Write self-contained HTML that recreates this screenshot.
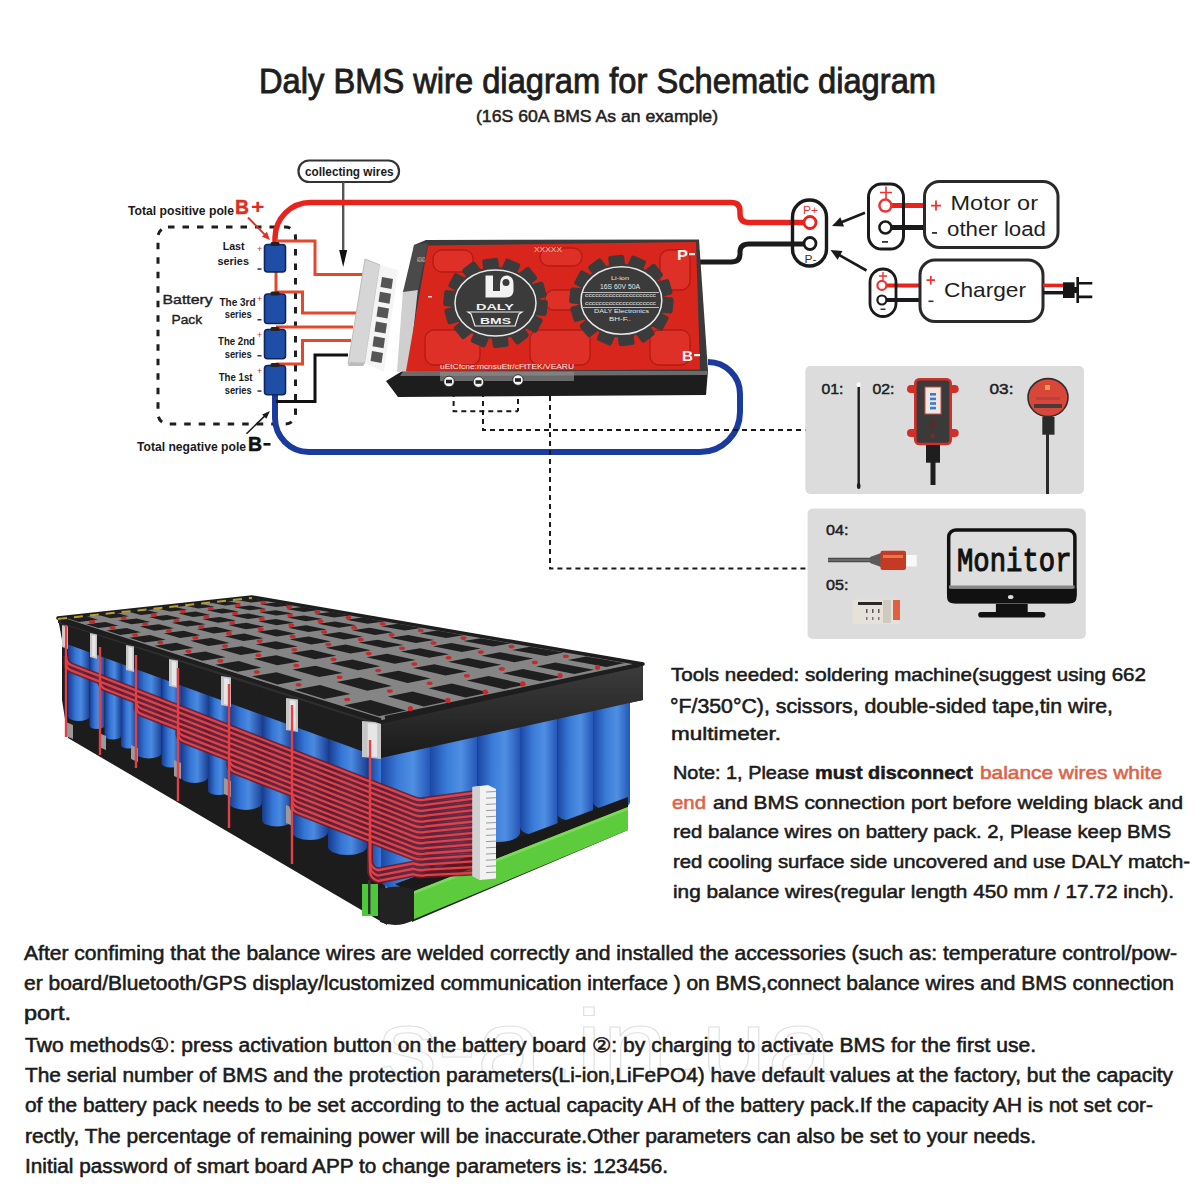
<!DOCTYPE html>
<html><head><meta charset="utf-8"><title>Daly BMS wire diagram</title>
<style>html,body{margin:0;padding:0;background:#fff;width:1200px;height:1200px;overflow:hidden}svg{display:block}</style>
</head><body>
<svg width="1200" height="1200" viewBox="0 0 1200 1200">
<rect width="1200" height="1200" fill="#fff"/>
<defs>
<linearGradient id="cellg" x1="0" x2="1" y1="0" y2="0">
<stop offset="0" stop-color="#173a8c"/><stop offset="0.35" stop-color="#3576d6"/><stop offset="0.6" stop-color="#4a8ae0"/><stop offset="1" stop-color="#1c4296"/></linearGradient>
<linearGradient id="cellg2" x1="0" x2="1" y1="0" y2="0">
<stop offset="0" stop-color="#1c47a4"/><stop offset="0.35" stop-color="#3a7bd8"/><stop offset="0.65" stop-color="#4f8fe2"/><stop offset="1" stop-color="#2456b8"/></linearGradient>
<linearGradient id="bandg" x1="0" x2="0" y1="0" y2="1">
<stop offset="0" stop-color="#3c3c3c"/><stop offset="0.5" stop-color="#2c2c2c"/><stop offset="1" stop-color="#1a1a1a"/></linearGradient>
</defs>
<polygon points="58.0,618.0 381.0,722.0 381.0,758.0 387.0,925.0 68.0,738.0 62.0,700.0 62.0,640.0" fill="#1c1c1c" />
<polygon points="381.0,722.0 643.0,664.0 643.0,700.0 628.0,703.0 628.0,830.0 412.0,922.0 381.0,758.0" fill="#1f1f1f" />
<path d="M68,644.0 L89.5,651.3 L89.5,716.8 A10.8,4.7 0 0 1 68,716.8 Z" fill="url(#cellg)"/>
<path d="M89.5,651.3 L104.5,656.4 L104.5,725.7 A7.5,3.3 0 0 1 89.5,725.7 Z" fill="url(#cellg)"/>
<path d="M104.5,656.4 L121,662.0 L121,735.9 A8.2,3.6 0 0 1 104.5,735.9 Z" fill="url(#cellg)"/>
<path d="M121,662.0 L136,667.1 L136,745.2 A7.5,3.3 0 0 1 121,745.2 Z" fill="url(#cellg)"/>
<path d="M136,667.1 L161.5,675.8 L161.5,753.4 A12.8,5.6 0 0 1 136,753.4 Z" fill="url(#cellg)"/>
<path d="M161.5,675.8 L181,682.4 L181,763.7 A9.8,4.3 0 0 1 161.5,763.7 Z" fill="url(#cellg)"/>
<path d="M181,682.4 L208,691.6 L208,777.1 A13.5,5.9 0 0 1 181,777.1 Z" fill="url(#cellg)"/>
<path d="M208,691.6 L229,698.7 L229,790.4 A10.5,4.6 0 0 1 208,790.4 Z" fill="url(#cellg)"/>
<path d="M229,698.7 L262,710.0 L262,802.7 A16.5,7.3 0 0 1 229,802.7 Z" fill="url(#cellg)"/>
<path d="M262,710.0 L292,720.2 L292,819.9 A15.0,6.6 0 0 1 262,819.9 Z" fill="url(#cellg)"/>
<path d="M292,720.2 L328,732.4 L328,832.1 A18.0,7.9 0 0 1 292,832.1 Z" fill="url(#cellg)"/>
<path d="M328,732.4 L367,745.7 L367,846.4 A19.5,8.6 0 0 1 328,846.4 Z" fill="url(#cellg)"/>
<path d="M367,745.7 L405,758.6 L405,871.6 A19.0,8.4 0 0 1 367,871.6 Z" fill="url(#cellg)"/>
<path d="M381,755.0 L430,744.3 L430,880.2 A24.5,10.8 0 0 1 381,880.2 Z" fill="url(#cellg2)"/>
<path d="M430,744.3 L477.5,733.9 L477.5,861.5 A23.8,10.4 0 0 1 430,861.5 Z" fill="url(#cellg2)"/>
<path d="M477.5,733.9 L520,724.6 L520,832.6 A21.2,9.3 0 0 1 477.5,832.6 Z" fill="url(#cellg2)"/>
<path d="M520,724.6 L557.5,716.4 L557.5,827.8 A18.8,8.2 0 0 1 520,827.8 Z" fill="url(#cellg2)"/>
<path d="M557.5,716.4 L593,708.7 L593,814.2 A17.8,7.8 0 0 1 557.5,814.2 Z" fill="url(#cellg2)"/>
<path d="M593,708.7 L630,700.6 L630,801.9 A18.5,8.1 0 0 1 593,801.9 Z" fill="url(#cellg2)"/>
<polygon points="395.0,884.0 628.0,797.0 628.0,809.0 412.0,894.0" fill="#1a1a1a" />
<polygon points="412.0,892.0 628.0,807.0 628.0,830.0 412.0,920.0" fill="#5ccb3c" />
<polygon points="412.0,892.0 628.0,807.0 628.0,810.0 412.0,895.0" fill="#7ad85a" />
<path d="M379,889 Q396,884 414,889 L414,920 Q397,929 380,922 Z" fill="#222"/>
<rect x="362" y="884" width="16" height="32" fill="#4cc83a"/>
<rect x="368" y="880" width="2.5" height="34" fill="#333"/>
<polygon points="58.0,618.0 381.0,722.0 381.0,758.0 64.0,643.0" fill="#1e1e1e" />
<polygon points="58.0,618.0 381.0,722.0 381.0,726.0 58.0,623.0" fill="#2e2e2e" />
<polygon points="62.0,625.0 68.0,626.5 68.0,649.0 62.0,647.0" fill="#c6c6c6" />
<polygon points="63.8,627.0 66.8,628.0 66.8,647.0 63.8,646.0" fill="#e6e6e6" />
<polygon points="90.0,633.0 97.0,634.5 97.0,659.0 90.0,657.0" fill="#c6c6c6" />
<polygon points="92.1,635.0 95.6,636.0 95.6,657.0 92.1,656.0" fill="#e6e6e6" />
<polygon points="126.0,645.0 134.0,646.5 134.0,672.0 126.0,670.0" fill="#c6c6c6" />
<polygon points="128.4,647.0 132.4,648.0 132.4,670.0 128.4,669.0" fill="#e6e6e6" />
<polygon points="169.0,659.0 178.0,660.5 178.0,688.0 169.0,686.0" fill="#c6c6c6" />
<polygon points="171.7,661.0 176.2,662.0 176.2,686.0 171.7,685.0" fill="#e6e6e6" />
<polygon points="221.0,676.0 231.0,677.5 231.0,707.0 221.0,705.0" fill="#c6c6c6" />
<polygon points="224.0,678.0 229.0,679.0 229.0,705.0 224.0,704.0" fill="#e6e6e6" />
<polygon points="286.0,698.0 298.0,699.5 298.0,732.0 286.0,730.0" fill="#c6c6c6" />
<polygon points="289.6,700.0 295.6,701.0 295.6,730.0 289.6,729.0" fill="#e6e6e6" />
<polygon points="362.0,721.0 381.0,722.5 381.0,759.0 362.0,757.0" fill="#c6c6c6" />
<polygon points="367.7,723.0 377.2,724.0 377.2,757.0 367.7,756.0" fill="#e6e6e6" />
<polygon points="66.0,722.0 73.0,725.0 73.0,739.0 66.0,736.0" fill="#9a9a9a" />
<polygon points="99.0,733.0 106.0,736.0 106.0,750.0 99.0,747.0" fill="#9a9a9a" />
<polygon points="131.0,745.0 138.0,748.0 138.0,762.0 131.0,759.0" fill="#9a9a9a" />
<polygon points="174.0,760.0 181.0,763.0 181.0,779.0 174.0,776.0" fill="#9a9a9a" />
<polygon points="224.0,778.0 231.0,781.0 231.0,797.0 224.0,794.0" fill="#9a9a9a" />
<polygon points="286.0,805.0 293.0,808.0 293.0,826.0 286.0,823.0" fill="#9a9a9a" />
<polygon points="381.0,722.0 643.0,664.0 643.0,700.0 381.0,758.0" fill="url(#bandg)" />
<polygon points="58.0,618.0 252.0,597.0 643.0,664.0 381.0,722.0" fill="#858585" />
<polygon points="67.6,618.4 78.8,621.9 98.0,619.7 86.4,616.3" fill="#1f1f1f" />
<polygon points="98.6,615.0 110.5,618.3 128.9,616.3 116.6,613.0" fill="#1f1f1f" />
<polygon points="128.4,611.7 140.9,614.9 158.6,612.9 145.7,609.8" fill="#1f1f1f" />
<polygon points="157.0,608.6 170.1,611.6 187.1,609.7 173.7,606.8" fill="#1f1f1f" />
<polygon points="184.6,605.6 198.2,608.5 214.5,606.7 200.6,603.8" fill="#1f1f1f" />
<polygon points="211.1,602.7 225.2,605.5 240.9,603.7 226.5,601.0" fill="#1f1f1f" />
<polygon points="236.6,599.9 251.1,602.5 266.2,600.8 251.5,598.3" fill="#1f1f1f" />
<polygon points="86.1,624.2 98.5,628.1 118.3,625.7 105.5,621.9" fill="#1f1f1f" />
<ellipse cx="92.1" cy="621.9" rx="3" ry="1.8" fill="#c82a2a"/>
<polygon points="118.2,620.5 131.3,624.2 150.3,621.9 136.8,618.4" fill="#1f1f1f" />
<ellipse cx="123.6" cy="618.3" rx="3" ry="1.8" fill="#c82a2a"/>
<polygon points="149.0,617.0 162.8,620.5 181.0,618.3 166.9,614.9" fill="#1f1f1f" />
<ellipse cx="153.9" cy="614.9" rx="3" ry="1.8" fill="#c82a2a"/>
<polygon points="178.5,613.6 192.9,616.9 210.4,614.9 195.7,611.6" fill="#1f1f1f" />
<ellipse cx="182.9" cy="611.6" rx="3" ry="1.8" fill="#c82a2a"/>
<polygon points="206.9,610.3 221.8,613.5 238.6,611.5 223.4,608.5" fill="#1f1f1f" />
<ellipse cx="210.8" cy="608.5" rx="3" ry="1.8" fill="#c82a2a"/>
<polygon points="234.2,607.2 249.6,610.3 265.7,608.4 250.0,605.4" fill="#1f1f1f" />
<ellipse cx="237.6" cy="605.4" rx="3" ry="1.8" fill="#c82a2a"/>
<polygon points="260.4,604.2 276.3,607.1 291.8,605.3 275.7,602.5" fill="#1f1f1f" />
<ellipse cx="263.4" cy="602.5" rx="3" ry="1.8" fill="#c82a2a"/>
<polygon points="106.4,630.6 120.2,634.9 140.8,632.3 126.6,628.1" fill="#1f1f1f" />
<ellipse cx="112.5" cy="628.1" rx="3" ry="1.8" fill="#c82a2a"/>
<polygon points="139.8,626.6 154.3,630.7 174.0,628.2 159.1,624.3" fill="#1f1f1f" />
<ellipse cx="145.1" cy="624.2" rx="3" ry="1.8" fill="#c82a2a"/>
<polygon points="171.6,622.7 186.9,626.6 205.7,624.3 190.1,620.5" fill="#1f1f1f" />
<ellipse cx="176.4" cy="620.5" rx="3" ry="1.8" fill="#c82a2a"/>
<polygon points="202.2,619.1 218.0,622.8 236.1,620.5 219.9,617.0" fill="#1f1f1f" />
<ellipse cx="206.3" cy="616.9" rx="3" ry="1.8" fill="#c82a2a"/>
<polygon points="231.4,615.6 247.8,619.1 265.1,616.9 248.4,613.5" fill="#1f1f1f" />
<ellipse cx="235.1" cy="613.5" rx="3" ry="1.8" fill="#c82a2a"/>
<polygon points="259.5,612.2 276.4,615.5 293.0,613.5 275.8,610.2" fill="#1f1f1f" />
<ellipse cx="262.6" cy="610.2" rx="3" ry="1.8" fill="#c82a2a"/>
<polygon points="286.4,609.0 303.8,612.1 319.7,610.1 302.1,607.1" fill="#1f1f1f" />
<ellipse cx="289.1" cy="607.1" rx="3" ry="1.8" fill="#c82a2a"/>
<polygon points="129.1,637.7 144.4,642.5 165.9,639.7 150.0,635.0" fill="#1f1f1f" />
<ellipse cx="135.1" cy="635.0" rx="3" ry="1.8" fill="#c82a2a"/>
<polygon points="163.7,633.3 179.9,637.9 200.3,635.2 183.7,630.8" fill="#1f1f1f" />
<ellipse cx="168.9" cy="630.7" rx="3" ry="1.8" fill="#c82a2a"/>
<polygon points="196.7,629.1 213.6,633.4 233.1,630.9 215.8,626.7" fill="#1f1f1f" />
<ellipse cx="201.3" cy="626.7" rx="3" ry="1.8" fill="#c82a2a"/>
<polygon points="228.2,625.1 245.8,629.2 264.4,626.8 246.5,622.8" fill="#1f1f1f" />
<ellipse cx="232.2" cy="622.8" rx="3" ry="1.8" fill="#c82a2a"/>
<polygon points="258.4,621.3 276.5,625.2 294.3,622.8 275.9,619.1" fill="#1f1f1f" />
<ellipse cx="261.8" cy="619.1" rx="3" ry="1.8" fill="#c82a2a"/>
<polygon points="287.3,617.6 305.9,621.3 322.9,619.1 304.0,615.5" fill="#1f1f1f" />
<ellipse cx="290.2" cy="615.5" rx="3" ry="1.8" fill="#c82a2a"/>
<polygon points="314.9,614.1 334.0,617.6 350.3,615.5 331.0,612.1" fill="#1f1f1f" />
<ellipse cx="317.3" cy="612.1" rx="3" ry="1.8" fill="#c82a2a"/>
<polygon points="154.4,645.7 171.6,651.1 193.9,648.0 176.2,642.7" fill="#1f1f1f" />
<ellipse cx="160.2" cy="642.6" rx="3" ry="1.8" fill="#c82a2a"/>
<polygon points="190.3,640.8 208.4,645.9 229.6,643.0 211.1,638.0" fill="#1f1f1f" />
<ellipse cx="195.4" cy="637.9" rx="3" ry="1.8" fill="#c82a2a"/>
<polygon points="224.5,636.2 243.4,641.0 263.6,638.2 244.3,633.6" fill="#1f1f1f" />
<ellipse cx="228.9" cy="633.5" rx="3" ry="1.8" fill="#c82a2a"/>
<polygon points="257.1,631.8 276.7,636.4 295.9,633.7 276.0,629.3" fill="#1f1f1f" />
<ellipse cx="260.8" cy="629.3" rx="3" ry="1.8" fill="#c82a2a"/>
<polygon points="288.3,627.7 308.4,631.9 326.7,629.4 306.2,625.2" fill="#1f1f1f" />
<ellipse cx="291.3" cy="625.2" rx="3" ry="1.8" fill="#c82a2a"/>
<polygon points="318.0,623.7 338.6,627.7 356.1,625.3 335.1,621.4" fill="#1f1f1f" />
<ellipse cx="320.5" cy="621.3" rx="3" ry="1.8" fill="#c82a2a"/>
<polygon points="346.4,619.8 367.5,623.7 384.2,621.4 362.8,617.6" fill="#1f1f1f" />
<ellipse cx="348.4" cy="617.6" rx="3" ry="1.8" fill="#c82a2a"/>
<polygon points="182.8,654.6 202.3,660.7 225.6,657.3 205.5,651.4" fill="#1f1f1f" />
<ellipse cx="188.5" cy="651.2" rx="3" ry="1.8" fill="#c82a2a"/>
<polygon points="220.2,649.2 240.6,655.0 262.6,651.7 241.7,646.2" fill="#1f1f1f" />
<ellipse cx="225.0" cy="646.0" rx="3" ry="1.8" fill="#c82a2a"/>
<polygon points="255.7,644.2 276.9,649.6 297.8,646.4 276.1,641.2" fill="#1f1f1f" />
<ellipse cx="259.7" cy="641.1" rx="3" ry="1.8" fill="#c82a2a"/>
<polygon points="289.4,639.3 311.3,644.4 331.1,641.4 308.8,636.5" fill="#1f1f1f" />
<ellipse cx="292.7" cy="636.5" rx="3" ry="1.8" fill="#c82a2a"/>
<polygon points="321.5,634.7 344.0,639.5 362.8,636.7 340.0,632.1" fill="#1f1f1f" />
<ellipse cx="324.1" cy="632.0" rx="3" ry="1.8" fill="#c82a2a"/>
<polygon points="352.0,630.3 375.1,634.9 393.0,632.2 369.7,627.8" fill="#1f1f1f" />
<ellipse cx="354.1" cy="627.8" rx="3" ry="1.8" fill="#c82a2a"/>
<polygon points="381.2,626.2 404.7,630.4 421.7,627.9 398.0,623.8" fill="#1f1f1f" />
<ellipse cx="382.7" cy="623.7" rx="3" ry="1.8" fill="#c82a2a"/>
<polygon points="215.1,664.7 237.3,671.7 261.5,667.8 238.7,661.1" fill="#1f1f1f" />
<ellipse cx="220.4" cy="660.9" rx="3" ry="1.8" fill="#c82a2a"/>
<polygon points="254.0,658.8 277.2,665.3 300.0,661.6 276.3,655.3" fill="#1f1f1f" />
<ellipse cx="258.4" cy="655.2" rx="3" ry="1.8" fill="#c82a2a"/>
<polygon points="290.8,653.1 314.8,659.2 336.4,655.7 311.9,649.8" fill="#1f1f1f" />
<ellipse cx="294.3" cy="649.7" rx="3" ry="1.8" fill="#c82a2a"/>
<polygon points="325.6,647.7 350.4,653.5 370.8,650.2 345.6,644.6" fill="#1f1f1f" />
<ellipse cx="328.4" cy="644.5" rx="3" ry="1.8" fill="#c82a2a"/>
<polygon points="358.7,642.6 384.0,648.0 403.4,644.9 377.7,639.7" fill="#1f1f1f" />
<ellipse cx="360.8" cy="639.6" rx="3" ry="1.8" fill="#c82a2a"/>
<polygon points="390.0,637.8 415.9,642.9 434.3,639.9 408.1,635.0" fill="#1f1f1f" />
<ellipse cx="391.6" cy="634.9" rx="3" ry="1.8" fill="#c82a2a"/>
<polygon points="419.9,633.2 446.2,638.0 463.6,635.2 437.1,630.6" fill="#1f1f1f" />
<ellipse cx="420.8" cy="630.5" rx="3" ry="1.8" fill="#c82a2a"/>
<polygon points="251.9,676.3 277.5,684.4 302.7,679.9 276.5,672.2" fill="#1f1f1f" />
<ellipse cx="256.8" cy="672.0" rx="3" ry="1.8" fill="#c82a2a"/>
<polygon points="292.4,669.6 319.0,677.1 342.7,672.9 315.5,665.7" fill="#1f1f1f" />
<ellipse cx="296.3" cy="665.5" rx="3" ry="1.8" fill="#c82a2a"/>
<polygon points="330.5,663.2 358.0,670.2 380.3,666.3 352.4,659.6" fill="#1f1f1f" />
<ellipse cx="333.5" cy="659.4" rx="3" ry="1.8" fill="#c82a2a"/>
<polygon points="366.5,657.2 394.7,663.8 415.7,660.1 387.2,653.8" fill="#1f1f1f" />
<ellipse cx="368.7" cy="653.6" rx="3" ry="1.8" fill="#c82a2a"/>
<polygon points="400.5,651.5 429.3,657.7 449.1,654.2 420.1,648.3" fill="#1f1f1f" />
<ellipse cx="402.0" cy="648.2" rx="3" ry="1.8" fill="#c82a2a"/>
<polygon points="432.8,646.2 462.0,651.9 480.8,648.6 451.3,643.1" fill="#1f1f1f" />
<ellipse cx="433.5" cy="643.0" rx="3" ry="1.8" fill="#c82a2a"/>
<polygon points="463.3,641.1 492.9,646.5 510.7,643.3 480.9,638.2" fill="#1f1f1f" />
<ellipse cx="463.5" cy="638.1" rx="3" ry="1.8" fill="#c82a2a"/>
<polygon points="294.4,689.7 324.1,699.0 350.4,694.0 320.0,685.0" fill="#1f1f1f" />
<ellipse cx="298.6" cy="684.7" rx="3" ry="1.8" fill="#c82a2a"/>
<polygon points="336.5,682.0 367.3,690.7 391.8,685.9 360.5,677.6" fill="#1f1f1f" />
<ellipse cx="339.6" cy="677.3" rx="3" ry="1.8" fill="#c82a2a"/>
<polygon points="376.0,674.8 407.6,682.9 430.6,678.4 398.6,670.7" fill="#1f1f1f" />
<ellipse cx="378.2" cy="670.5" rx="3" ry="1.8" fill="#c82a2a"/>
<polygon points="413.1,668.0 445.5,675.5 467.0,671.4 434.4,664.2" fill="#1f1f1f" />
<ellipse cx="414.4" cy="664.0" rx="3" ry="1.8" fill="#c82a2a"/>
<polygon points="448.1,661.7 481.0,668.7 501.3,664.7 468.1,658.0" fill="#1f1f1f" />
<ellipse cx="448.6" cy="657.8" rx="3" ry="1.8" fill="#c82a2a"/>
<polygon points="481.1,655.7 514.4,662.2 533.5,658.5 500.0,652.2" fill="#1f1f1f" />
<ellipse cx="480.9" cy="652.1" rx="3" ry="1.8" fill="#c82a2a"/>
<polygon points="512.2,650.0 545.9,656.1 563.9,652.6 530.1,646.7" fill="#1f1f1f" />
<ellipse cx="511.5" cy="646.6" rx="3" ry="1.8" fill="#c82a2a"/>
<polygon points="343.9,705.3 378.9,716.3 406.2,710.4 370.5,699.9" fill="#1f1f1f" />
<ellipse cx="347.2" cy="699.5" rx="3" ry="1.8" fill="#c82a2a"/>
<polygon points="387.7,696.4 423.7,706.6 449.1,701.1 412.5,691.4" fill="#1f1f1f" />
<ellipse cx="389.8" cy="691.0" rx="3" ry="1.8" fill="#c82a2a"/>
<polygon points="428.5,688.2 465.4,697.6 489.0,692.5 451.8,683.5" fill="#1f1f1f" />
<ellipse cx="429.6" cy="683.2" rx="3" ry="1.8" fill="#c82a2a"/>
<polygon points="466.8,680.5 504.2,689.2 526.3,684.4 488.5,676.1" fill="#1f1f1f" />
<ellipse cx="466.9" cy="675.8" rx="3" ry="1.8" fill="#c82a2a"/>
<polygon points="502.6,673.3 540.5,681.3 561.2,676.9 523.0,669.1" fill="#1f1f1f" />
<ellipse cx="501.9" cy="668.9" rx="3" ry="1.8" fill="#c82a2a"/>
<polygon points="536.2,666.5 574.5,674.0 593.9,669.8 555.4,662.6" fill="#1f1f1f" />
<ellipse cx="534.8" cy="662.4" rx="3" ry="1.8" fill="#c82a2a"/>
<polygon points="567.9,660.1 606.4,667.1 624.6,663.1 586.0,656.4" fill="#1f1f1f" />
<ellipse cx="565.9" cy="656.3" rx="3" ry="1.8" fill="#c82a2a"/>
<polygon points="58,618 252,597 643,664 381,722" fill="none" stroke="#1e1e1e" stroke-width="3.5" stroke-linejoin="round"/>
<line x1="58" y1="619" x2="252" y2="598" stroke="#b8a030" stroke-width="2" stroke-dasharray="9 7"/>
<line x1="385" y1="718" x2="639" y2="665" stroke="#1e1e1e" stroke-width="4"/>
<line x1="61" y1="621" x2="381" y2="720" stroke="#1e1e1e" stroke-width="3.5"/>
<circle cx="410.4" cy="708.7" r="2.6" fill="#c82a2a"/>
<circle cx="447.9" cy="700.4" r="2.6" fill="#c82a2a"/>
<circle cx="485.3" cy="692.1" r="2.6" fill="#c82a2a"/>
<circle cx="522.7" cy="683.9" r="2.6" fill="#c82a2a"/>
<circle cx="560.1" cy="675.6" r="2.6" fill="#c82a2a"/>
<circle cx="597.6" cy="667.3" r="2.6" fill="#c82a2a"/>
<path d="M66,656.0 Q66,663.0 71,665.0 L413.5,798.6 Q419.5,800.9 425.5,799.5 L473.5,793.0" fill="none" stroke="#6a1a26" stroke-width="5.6" opacity="0.85"/>
<path d="M66,661.4 Q66,668.4 71,670.4 L413.5,804.0 Q419.5,806.3 425.5,804.9 L473.5,798.7" fill="none" stroke="#6a1a26" stroke-width="5.6" opacity="0.85"/>
<path d="M100,680.1 Q100,687.1 105,689.0 L413.5,809.4 Q419.5,811.7 425.5,810.3 L473.5,804.4" fill="none" stroke="#6a1a26" stroke-width="5.6" opacity="0.85"/>
<path d="M136,699.5 Q136,706.5 141,708.5 L413.5,814.8 Q419.5,817.1 425.5,815.7 L473.5,810.1" fill="none" stroke="#6a1a26" stroke-width="5.6" opacity="0.85"/>
<path d="M136,704.9 Q136,711.9 141,713.9 L413.5,820.2 Q419.5,822.5 425.5,821.1 L473.5,815.8" fill="none" stroke="#6a1a26" stroke-width="5.6" opacity="0.85"/>
<path d="M178,726.7 Q178,733.7 183,735.6 L413.5,825.6 Q419.5,827.9 425.5,826.5 L473.5,821.5" fill="none" stroke="#6a1a26" stroke-width="5.6" opacity="0.85"/>
<path d="M178,732.1 Q178,739.1 183,741.0 L413.5,831.0 Q419.5,833.3 425.5,831.9 L473.5,827.2" fill="none" stroke="#6a1a26" stroke-width="5.6" opacity="0.85"/>
<path d="M229,757.4 Q229,764.4 234,766.3 L413.5,836.4 Q419.5,838.7 425.5,837.3 L473.5,832.9" fill="none" stroke="#6a1a26" stroke-width="5.6" opacity="0.85"/>
<path d="M229,762.8 Q229,769.8 234,771.7 L413.5,841.8 Q419.5,844.1 425.5,842.7 L473.5,838.6" fill="none" stroke="#6a1a26" stroke-width="5.6" opacity="0.85"/>
<path d="M292,792.7 Q292,799.7 297,801.7 L413.5,847.2 Q419.5,849.5 425.5,848.1 L473.5,844.3" fill="none" stroke="#6a1a26" stroke-width="5.6" opacity="0.85"/>
<path d="M292,798.1 Q292,805.1 297,807.1 L413.5,852.6 Q419.5,854.9 425.5,853.5 L473.5,850.0" fill="none" stroke="#6a1a26" stroke-width="5.6" opacity="0.85"/>
<path d="M292,803.5 Q292,810.5 297,812.5 L413.5,858.0 Q419.5,860.3 425.5,858.9 L473.5,855.7" fill="none" stroke="#6a1a26" stroke-width="5.6" opacity="0.85"/>
<path d="M370,832.4 L370,859.7 Q370,867.7 378,870.2 L413.5,863.4 Q419.5,865.7 425.5,864.3 L473.5,861.4" fill="none" stroke="#6a1a26" stroke-width="5.6" opacity="0.85"/>
<path d="M370,837.8 L370,865.1 Q370,873.1 378,875.6 L413.5,868.8 Q419.5,871.1 425.5,869.7 L473.5,867.1" fill="none" stroke="#6a1a26" stroke-width="5.6" opacity="0.85"/>
<path d="M370,843.2 L370,870.5 Q370,878.5 378,881.0 L413.5,874.2 Q419.5,876.5 425.5,875.1 L473.5,872.8" fill="none" stroke="#6a1a26" stroke-width="5.6" opacity="0.85"/>
<path d="M66,656.0 Q66,663.0 71,665.0 L413.5,798.6 Q419.5,800.9 425.5,799.5 L473.5,793.0" fill="none" stroke="#e04048" stroke-width="2.3"/>
<path d="M66,661.4 Q66,668.4 71,670.4 L413.5,804.0 Q419.5,806.3 425.5,804.9 L473.5,798.7" fill="none" stroke="#e04048" stroke-width="2.3"/>
<path d="M100,680.1 Q100,687.1 105,689.0 L413.5,809.4 Q419.5,811.7 425.5,810.3 L473.5,804.4" fill="none" stroke="#e04048" stroke-width="2.3"/>
<path d="M136,699.5 Q136,706.5 141,708.5 L413.5,814.8 Q419.5,817.1 425.5,815.7 L473.5,810.1" fill="none" stroke="#e04048" stroke-width="2.3"/>
<path d="M136,704.9 Q136,711.9 141,713.9 L413.5,820.2 Q419.5,822.5 425.5,821.1 L473.5,815.8" fill="none" stroke="#e04048" stroke-width="2.3"/>
<path d="M178,726.7 Q178,733.7 183,735.6 L413.5,825.6 Q419.5,827.9 425.5,826.5 L473.5,821.5" fill="none" stroke="#e04048" stroke-width="2.3"/>
<path d="M178,732.1 Q178,739.1 183,741.0 L413.5,831.0 Q419.5,833.3 425.5,831.9 L473.5,827.2" fill="none" stroke="#e04048" stroke-width="2.3"/>
<path d="M229,757.4 Q229,764.4 234,766.3 L413.5,836.4 Q419.5,838.7 425.5,837.3 L473.5,832.9" fill="none" stroke="#e04048" stroke-width="2.3"/>
<path d="M229,762.8 Q229,769.8 234,771.7 L413.5,841.8 Q419.5,844.1 425.5,842.7 L473.5,838.6" fill="none" stroke="#e04048" stroke-width="2.3"/>
<path d="M292,792.7 Q292,799.7 297,801.7 L413.5,847.2 Q419.5,849.5 425.5,848.1 L473.5,844.3" fill="none" stroke="#e04048" stroke-width="2.3"/>
<path d="M292,798.1 Q292,805.1 297,807.1 L413.5,852.6 Q419.5,854.9 425.5,853.5 L473.5,850.0" fill="none" stroke="#e04048" stroke-width="2.3"/>
<path d="M292,803.5 Q292,810.5 297,812.5 L413.5,858.0 Q419.5,860.3 425.5,858.9 L473.5,855.7" fill="none" stroke="#e04048" stroke-width="2.3"/>
<path d="M370,832.4 L370,859.7 Q370,867.7 378,870.2 L413.5,863.4 Q419.5,865.7 425.5,864.3 L473.5,861.4" fill="none" stroke="#e04048" stroke-width="2.3"/>
<path d="M370,837.8 L370,865.1 Q370,873.1 378,875.6 L413.5,868.8 Q419.5,871.1 425.5,869.7 L473.5,867.1" fill="none" stroke="#e04048" stroke-width="2.3"/>
<path d="M370,843.2 L370,870.5 Q370,878.5 378,881.0 L413.5,874.2 Q419.5,876.5 425.5,875.1 L473.5,872.8" fill="none" stroke="#e04048" stroke-width="2.3"/>
<path d="M66,625 L66,737" stroke="#e04048" stroke-width="2.4"/>
<path d="M100,647 L100,755" stroke="#e04048" stroke-width="2.4"/>
<path d="M136,655 L136,768" stroke="#e04048" stroke-width="2.4"/>
<path d="M178,668 L178,801" stroke="#e04048" stroke-width="2.4"/>
<path d="M229,684 L229,828" stroke="#e04048" stroke-width="2.4"/>
<path d="M292,705 L292,864" stroke="#e04048" stroke-width="2.4"/>
<path d="M370,740 L370,862" stroke="#e04048" stroke-width="2.4"/>
<polygon points="472.5,787.0 488.0,785.0 496.0,789.0 496.0,878.5 480.0,880.0 472.5,876.0" fill="#f2f2f2" />
<polygon points="472.5,787.0 480.0,786.0 480.0,880.0 472.5,876.0" fill="#d0d0d0" />
<line x1="486" y1="792.0" x2="496" y2="791.5" stroke="#9a9a9a" stroke-width="1"/>
<line x1="486" y1="798.2" x2="496" y2="797.7" stroke="#9a9a9a" stroke-width="1"/>
<line x1="486" y1="804.4" x2="496" y2="803.9" stroke="#9a9a9a" stroke-width="1"/>
<line x1="486" y1="810.6" x2="496" y2="810.1" stroke="#9a9a9a" stroke-width="1"/>
<line x1="486" y1="816.8" x2="496" y2="816.3" stroke="#9a9a9a" stroke-width="1"/>
<line x1="486" y1="823.0" x2="496" y2="822.5" stroke="#9a9a9a" stroke-width="1"/>
<line x1="486" y1="829.2" x2="496" y2="828.7" stroke="#9a9a9a" stroke-width="1"/>
<line x1="486" y1="835.4" x2="496" y2="834.9" stroke="#9a9a9a" stroke-width="1"/>
<line x1="486" y1="841.6" x2="496" y2="841.1" stroke="#9a9a9a" stroke-width="1"/>
<line x1="486" y1="847.8" x2="496" y2="847.3" stroke="#9a9a9a" stroke-width="1"/>
<line x1="486" y1="854.0" x2="496" y2="853.5" stroke="#9a9a9a" stroke-width="1"/>
<line x1="486" y1="860.2" x2="496" y2="859.7" stroke="#9a9a9a" stroke-width="1"/>
<line x1="486" y1="866.4" x2="496" y2="865.9" stroke="#9a9a9a" stroke-width="1"/>
<line x1="486" y1="872.6" x2="496" y2="872.1" stroke="#9a9a9a" stroke-width="1"/>
<rect x="158" y="227" width="137.5" height="197" rx="10" fill="none" stroke="#1e1e1e" stroke-width="3" stroke-dasharray="6.5 8"/>
<rect x="298.5" y="160.5" width="100.5" height="21.5" rx="10.5" fill="#fff" stroke="#333" stroke-width="2.2"/>
<text x="305" y="175.5" textLength="88.5" lengthAdjust="spacingAndGlyphs" font-size="12.5" font-weight="bold" fill="#1a1a1a" font-family='"Liberation Sans", sans-serif' >collecting wires</text>
<line x1="343.2" y1="182" x2="343.2" y2="254" stroke="#555" stroke-width="2.4"/>
<polygon points="339.2,250 347.2,250 343.2,267" fill="#111"/>
<text x="128" y="214.5" textLength="106" lengthAdjust="spacingAndGlyphs" font-size="13" font-weight="bold" fill="#1a1a1a" font-family='"Liberation Sans", sans-serif' >Total positive pole</text>
<text x="235" y="213.7" textLength="14" lengthAdjust="spacingAndGlyphs" font-size="20" font-weight="bold" fill="#e32b20" stroke="#e32b20" stroke-width="0.4" font-family='"Liberation Sans", sans-serif' >B</text>
<text x="251" y="213.7" textLength="13.5" lengthAdjust="spacingAndGlyphs" font-size="20" font-weight="bold" fill="#e32b20" font-family='"Liberation Sans", sans-serif' >+</text>
<line x1="248" y1="217.5" x2="265.5" y2="235.4" stroke="#e0302a" stroke-width="2"/><polygon points="270.0,240.0 261.9,236.7 266.9,231.8" fill="#e0302a"/>
<text x="137" y="451" textLength="109" lengthAdjust="spacingAndGlyphs" font-size="13" font-weight="bold" fill="#1a1a1a" font-family='"Liberation Sans", sans-serif' >Total negative pole</text>
<text x="248" y="451" textLength="14" lengthAdjust="spacingAndGlyphs" font-size="20" font-weight="bold" fill="#111" stroke="#111" stroke-width="0.6" font-family='"Liberation Sans", sans-serif' >B</text>
<rect x="263.5" y="443" width="7" height="2.6" fill="#111"/>
<line x1="246.5" y1="433.7" x2="265.4" y2="415.4" stroke="#1a1a1a" stroke-width="1.6"/><polygon points="270.0,411.0 266.3,418.7 262.2,414.4" fill="#1a1a1a"/>
<text x="162.5" y="304" textLength="50.2" lengthAdjust="spacingAndGlyphs" font-size="13.5" font-weight="normal" fill="#222" stroke="#222" stroke-width="0.4" font-family='"Liberation Sans", sans-serif' >Battery</text>
<text x="171.5" y="323.5" textLength="30.5" lengthAdjust="spacingAndGlyphs" font-size="13.5" font-weight="normal" fill="#222" stroke="#222" stroke-width="0.4" font-family='"Liberation Sans", sans-serif' >Pack</text>
<text x="222.7" y="249.7" textLength="21.8" lengthAdjust="spacingAndGlyphs" font-size="10.5" font-weight="bold" fill="#1a1a1a" font-family='"Liberation Sans", sans-serif' >Last</text>
<text x="217.5" y="264.7" textLength="31.5" lengthAdjust="spacingAndGlyphs" font-size="10.5" font-weight="bold" fill="#1a1a1a" font-family='"Liberation Sans", sans-serif' >series</text>
<text x="219.5" y="305.5" textLength="36" lengthAdjust="spacingAndGlyphs" font-size="10.5" font-weight="bold" fill="#1a1a1a" font-family='"Liberation Sans", sans-serif' >The 3rd</text>
<text x="224.7" y="317.5" textLength="27" lengthAdjust="spacingAndGlyphs" font-size="10.5" font-weight="bold" fill="#1a1a1a" font-family='"Liberation Sans", sans-serif' >series</text>
<text x="218" y="344.5" textLength="37" lengthAdjust="spacingAndGlyphs" font-size="10.5" font-weight="bold" fill="#1a1a1a" font-family='"Liberation Sans", sans-serif' >The 2nd</text>
<text x="224.7" y="358" textLength="27" lengthAdjust="spacingAndGlyphs" font-size="10.5" font-weight="bold" fill="#1a1a1a" font-family='"Liberation Sans", sans-serif' >series</text>
<text x="218.7" y="380.5" textLength="33.8" lengthAdjust="spacingAndGlyphs" font-size="10.5" font-weight="bold" fill="#1a1a1a" font-family='"Liberation Sans", sans-serif' >The 1st</text>
<text x="224.7" y="394" textLength="27" lengthAdjust="spacingAndGlyphs" font-size="10.5" font-weight="bold" fill="#1a1a1a" font-family='"Liberation Sans", sans-serif' >series</text>
<text x="257" y="252" font-size="9" fill="#d03030" font-family='"Liberation Sans", sans-serif'>+</text>
<text x="257" y="301.7" font-size="9" fill="#d03030" font-family='"Liberation Sans", sans-serif'>+</text>
<text x="257" y="337.7" font-size="9" fill="#d03030" font-family='"Liberation Sans", sans-serif'>+</text>
<text x="257" y="373.7" font-size="9" fill="#d03030" font-family='"Liberation Sans", sans-serif'>+</text>
<rect x="257.5" y="268.3" width="4" height="1.5" fill="#333"/>
<rect x="257.5" y="319.0" width="4" height="1.5" fill="#333"/>
<rect x="257.5" y="355.0" width="4" height="1.5" fill="#333"/>
<rect x="257.5" y="390.3" width="4" height="1.5" fill="#333"/>
<path d="M275,246 L275,238 A35.5,35.5 0 0 1 310.5,202.5 L731,202.5 Q740,202.5 740,211 L740,214 Q740,222.5 749,222.5 L806,222.5" fill="none" stroke="#e8231c" stroke-width="5.5"/>
<path d="M700,262 L731,262 Q740,262 740,254 L740,252 Q740,244 749,244 L806,244" fill="none" stroke="#1c1c1c" stroke-width="5"/>
<path d="M275,394 L275,418 A34,34 0 0 0 309,452 L700,452 A40,40 0 0 0 740,412 L740,394 A32,32 0 0 0 708,362" fill="none" stroke="#1a3a9e" stroke-width="6"/>
<path d="M276,241 L315,241 L315,274.4 L363,274.4" fill="none" stroke="#e4482c" stroke-width="3"/>
<path d="M276,270 L276,296" fill="none" stroke="#e4482c" stroke-width="3"/>
<path d="M276,292 L302.5,292 L302.5,313 L356,313" fill="none" stroke="#e4482c" stroke-width="3"/>
<path d="M276,327 L353,327" fill="none" stroke="#e4482c" stroke-width="3"/>
<path d="M276,364 L302.5,364 L302.5,340.6 L351,340.6" fill="none" stroke="#e4482c" stroke-width="3"/>
<path d="M276,401.5 L315,401.5 L315,355 L348,355" fill="none" stroke="#111" stroke-width="3"/>
<rect x="264.5" y="244.5" width="21" height="27.5" rx="3" fill="#1f4ea6" stroke="#10255e" stroke-width="1.6"/>
<rect x="270.5" y="242.0" width="9" height="4" rx="1.5" fill="#222"/>
<rect x="264.5" y="294" width="21" height="29.5" rx="3" fill="#1f4ea6" stroke="#10255e" stroke-width="1.6"/>
<rect x="270.5" y="291.5" width="9" height="4" rx="1.5" fill="#222"/>
<rect x="264.5" y="329.5" width="21" height="29.19999999999999" rx="3" fill="#1f4ea6" stroke="#10255e" stroke-width="1.6"/>
<rect x="270.5" y="327.0" width="9" height="4" rx="1.5" fill="#222"/>
<rect x="264.5" y="365.5" width="21" height="29.19999999999999" rx="3" fill="#1f4ea6" stroke="#10255e" stroke-width="1.6"/>
<rect x="270.5" y="363.0" width="9" height="4" rx="1.5" fill="#222"/>
<polygon points="365,259 380,265 365,363 348,364" fill="#d6d6d6" stroke="#bdbdbd" stroke-width="1"/>
<polygon points="380,265 398,270 384,372 365,363" fill="#f4f4f4"/>
<polygon points="350,362 365,363 363,366 348,366" fill="#bbb"/>
<polygon points="382.0,277.0 393.0,279.0 391.5,289.0 380.5,287.0" fill="#555"/>
<polygon points="380.0,291.8 391.0,293.8 389.5,303.8 378.5,301.8" fill="#555"/>
<polygon points="378.0,306.6 389.0,308.6 387.5,318.6 376.5,316.6" fill="#555"/>
<polygon points="376.0,321.4 387.0,323.4 385.5,333.4 374.5,331.4" fill="#555"/>
<polygon points="374.0,336.2 385.0,338.2 383.5,348.2 372.5,346.2" fill="#555"/>
<polygon points="372.0,351.0 383.0,353.0 381.5,363.0 370.5,361.0" fill="#555"/>
<path d="M453.6,392 L453.6,411.3 L518,411.3" stroke="#1a1a1a" stroke-width="2" stroke-dasharray="5 4" fill="none"/>
<path d="M518,390 L518,411.3" stroke="#1a1a1a" stroke-width="2" stroke-dasharray="5 4" fill="none"/>
<path d="M483,392 L483,430 L808,430" stroke="#1a1a1a" stroke-width="2" stroke-dasharray="5 4" fill="none"/>
<path d="M550,396 L550,568.6 L808,568.6" stroke="#1a1a1a" stroke-width="2" stroke-dasharray="5 4" fill="none"/>
<rect x="792.5" y="200" width="34" height="66" rx="17" fill="none" stroke="#1a1a1a" stroke-width="3.4"/>
<circle cx="810" cy="222.5" r="6" fill="#fff" stroke="#e8231c" stroke-width="2.8"/>
<circle cx="810" cy="243.5" r="6" fill="#fff" stroke="#1a1a1a" stroke-width="2.8"/>
<text x="803" y="213.5" textLength="15" lengthAdjust="spacingAndGlyphs" font-size="11" font-weight="normal" fill="#d83a2a" font-family='"Liberation Sans", sans-serif' >P+</text>
<text x="804.5" y="263" textLength="12" lengthAdjust="spacingAndGlyphs" font-size="11" font-weight="normal" fill="#333" font-family='"Liberation Sans", sans-serif' >P-</text>
<line x1="865" y1="212.75" x2="840.2" y2="222.7" stroke="#1a1a1a" stroke-width="2.6"/><polygon points="832.0,226.0 840.3,217.3 844.1,226.5" fill="#1a1a1a"/>
<line x1="866.5" y1="270.5" x2="838.1" y2="254.4" stroke="#1a1a1a" stroke-width="2.6"/><polygon points="830.5,250.0 842.5,251.1 837.6,259.8" fill="#1a1a1a"/>
<path d="M891,205.6 L925,205.6" stroke="#e8231c" stroke-width="5"/>
<path d="M891,227.5 L925,227.5" stroke="#1a1a1a" stroke-width="5"/>
<rect x="868.5" y="184" width="35" height="65" rx="13" fill="none" stroke="#1a1a1a" stroke-width="3"/>
<circle cx="885.4" cy="205.6" r="6" fill="#fff" stroke="#e33" stroke-width="2.5"/>
<circle cx="885.4" cy="227.5" r="6" fill="#fff" stroke="#1a1a1a" stroke-width="2.5"/>
<path d="M880,192.5 L892,192.5 M886,186.5 L886,199.5" stroke="#e33" stroke-width="1.6"/>
<rect x="882" y="241" width="6" height="1.8" fill="#333"/>
<rect x="924.5" y="181.5" width="133.5" height="66" rx="15" fill="none" stroke="#2a2a2a" stroke-width="3"/>
<path d="M931,205.6 L941,205.6 M936,200.6 L936,210.6" stroke="#e33" stroke-width="1.8"/>
<text x="950.5" y="210" textLength="87.5" lengthAdjust="spacingAndGlyphs" font-size="20" font-weight="normal" fill="#1e1e1e" font-family='"Liberation Sans", sans-serif' >Motor or</text>
<rect x="932" y="232" width="5" height="1.8" fill="#333"/>
<text x="947" y="236.3" textLength="99" lengthAdjust="spacingAndGlyphs" font-size="20" font-weight="normal" fill="#1e1e1e" font-family='"Liberation Sans", sans-serif' >other load</text>
<path d="M886,285.4 L921,285.4" stroke="#e8231c" stroke-width="4"/>
<path d="M886,300 L921,300" stroke="#1a1a1a" stroke-width="4"/>
<rect x="870" y="269" width="26" height="47.5" rx="13" fill="none" stroke="#1a1a1a" stroke-width="2.8"/>
<circle cx="881.9" cy="285.4" r="4.5" fill="#fff" stroke="#e33" stroke-width="2.2"/>
<circle cx="881.9" cy="300" r="4.5" fill="#fff" stroke="#1a1a1a" stroke-width="2.2"/>
<path d="M879,276 L887,276 M883,272 L883,280" stroke="#e33" stroke-width="1.4"/>
<rect x="880.5" y="308.5" width="5" height="1.5" fill="#333"/>
<rect x="920" y="260" width="123" height="61.5" rx="15" fill="none" stroke="#2a2a2a" stroke-width="3"/>
<path d="M926.5,280.2 L935,280.2 M930.8,276 L930.8,284.4" stroke="#e33" stroke-width="1.8"/>
<rect x="928.5" y="300.5" width="5" height="1.6" fill="#333"/>
<text x="944" y="296.9" textLength="82" lengthAdjust="spacingAndGlyphs" font-size="21" font-weight="normal" fill="#1e1e1e" font-family='"Liberation Sans", sans-serif' >Charger</text>
<path d="M1043,285.4 L1064,285.4" stroke="#e8231c" stroke-width="3.5"/>
<path d="M1043,292.7 L1064,292.7" stroke="#1a1a1a" stroke-width="3.5"/>
<rect x="1063" y="282.3" width="11.6" height="15.7" fill="#151515"/>
<path d="M1077.7,277 L1077.7,303 M1077.7,283.3 L1092.3,283.3 M1077.7,296.9 L1092.3,296.9" stroke="#151515" stroke-width="2.6"/>
<rect x="1074" y="287" width="4" height="6" fill="#151515"/>
<polygon points="386,381 404,370 708,370 706,395 398,397" fill="#1d1d1d"/>
<polygon points="404,370 708,370 707,375 400,376" fill="#6b6b6b"/>
<polygon points="414,245 426,240 699,239.5 708,371 403,371" fill="#3a3a3a"/>
<polygon points="403,290 418,288 409,371 397,372" fill="#cfcfcf"/>
<polygon points="414,245 428,243 418,290 403,292" fill="#4a4a4a"/>
<polygon points="428,245.5 696,242 700,369.5 406,371" fill="#d8261c"/>
<rect x="433" y="250" width="40" height="22" rx="9" fill="#e0322a" stroke="#b01a12" stroke-width="1.3" opacity="0.9"/>
<rect x="540" y="248" width="42" height="18" rx="9" fill="#e0322a" stroke="#b01a12" stroke-width="1.3" opacity="0.9"/>
<rect x="660" y="250" width="30" height="40" rx="9" fill="#e0322a" stroke="#b01a12" stroke-width="1.3" opacity="0.9"/>
<rect x="425" y="330" width="55" height="35" rx="9" fill="#e0322a" stroke="#b01a12" stroke-width="1.3" opacity="0.9"/>
<rect x="530" y="330" width="60" height="35" rx="9" fill="#e0322a" stroke="#b01a12" stroke-width="1.3" opacity="0.9"/>
<rect x="650" y="330" width="40" height="35" rx="9" fill="#e0322a" stroke="#b01a12" stroke-width="1.3" opacity="0.9"/>
<rect x="545" y="290" width="40" height="20" rx="9" fill="#e0322a" stroke="#b01a12" stroke-width="1.3" opacity="0.9"/>
<ellipse cx="495.5" cy="303" rx="43.5" ry="36.0" fill="#3b3b3b"/>
<rect x="-8" y="-7" width="16" height="14" rx="2.5" fill="#3b3b3b" transform="translate(540.7,307.5) rotate(95.6) scale(1,0.95)"/>
<rect x="-8" y="-7" width="16" height="14" rx="2.5" fill="#3b3b3b" transform="translate(533.8,323.5) rotate(117.5) scale(1,0.95)"/>
<rect x="-8" y="-7" width="16" height="14" rx="2.5" fill="#3b3b3b" transform="translate(519.4,335.3) rotate(142.8) scale(1,0.95)"/>
<rect x="-8" y="-7" width="16" height="14" rx="2.5" fill="#3b3b3b" transform="translate(500.2,340.8) rotate(172.7) scale(1,0.95)"/>
<rect x="-8" y="-7" width="16" height="14" rx="2.5" fill="#3b3b3b" transform="translate(480.1,338.8) rotate(203.8) scale(1,0.95)"/>
<rect x="-8" y="-7" width="16" height="14" rx="2.5" fill="#3b3b3b" transform="translate(463.1,329.7) rotate(231.3) scale(1,0.95)"/>
<rect x="-8" y="-7" width="16" height="14" rx="2.5" fill="#3b3b3b" transform="translate(452.4,315.3) rotate(254.5) scale(1,0.95)"/>
<rect x="-8" y="-7" width="16" height="14" rx="2.5" fill="#3b3b3b" transform="translate(450.3,298.5) rotate(-84.4) scale(1,0.95)"/>
<rect x="-8" y="-7" width="16" height="14" rx="2.5" fill="#3b3b3b" transform="translate(457.2,282.5) rotate(-62.5) scale(1,0.95)"/>
<rect x="-8" y="-7" width="16" height="14" rx="2.5" fill="#3b3b3b" transform="translate(471.6,270.7) rotate(-37.2) scale(1,0.95)"/>
<rect x="-8" y="-7" width="16" height="14" rx="2.5" fill="#3b3b3b" transform="translate(490.8,265.2) rotate(-7.3) scale(1,0.95)"/>
<rect x="-8" y="-7" width="16" height="14" rx="2.5" fill="#3b3b3b" transform="translate(510.9,267.2) rotate(23.8) scale(1,0.95)"/>
<rect x="-8" y="-7" width="16" height="14" rx="2.5" fill="#3b3b3b" transform="translate(527.9,276.3) rotate(51.3) scale(1,0.95)"/>
<rect x="-8" y="-7" width="16" height="14" rx="2.5" fill="#3b3b3b" transform="translate(538.6,290.7) rotate(74.5) scale(1,0.95)"/>
<ellipse cx="621.4" cy="300.5" rx="43.4" ry="36.7" fill="#3b3b3b"/>
<rect x="-8" y="-7" width="16" height="14" rx="2.5" fill="#3b3b3b" transform="translate(666.5,305.1) rotate(95.7) scale(1,0.95)"/>
<rect x="-8" y="-7" width="16" height="14" rx="2.5" fill="#3b3b3b" transform="translate(659.7,321.3) rotate(118.1) scale(1,0.95)"/>
<rect x="-8" y="-7" width="16" height="14" rx="2.5" fill="#3b3b3b" transform="translate(645.3,333.4) rotate(143.5) scale(1,0.95)"/>
<rect x="-8" y="-7" width="16" height="14" rx="2.5" fill="#3b3b3b" transform="translate(626.1,339.0) rotate(172.8) scale(1,0.95)"/>
<rect x="-8" y="-7" width="16" height="14" rx="2.5" fill="#3b3b3b" transform="translate(606.1,336.9) rotate(203.3) scale(1,0.95)"/>
<rect x="-8" y="-7" width="16" height="14" rx="2.5" fill="#3b3b3b" transform="translate(589.0,327.7) rotate(230.6) scale(1,0.95)"/>
<rect x="-8" y="-7" width="16" height="14" rx="2.5" fill="#3b3b3b" transform="translate(578.4,313.0) rotate(254.1) scale(1,0.95)"/>
<rect x="-8" y="-7" width="16" height="14" rx="2.5" fill="#3b3b3b" transform="translate(576.3,295.9) rotate(-84.3) scale(1,0.95)"/>
<rect x="-8" y="-7" width="16" height="14" rx="2.5" fill="#3b3b3b" transform="translate(583.1,279.7) rotate(-61.9) scale(1,0.95)"/>
<rect x="-8" y="-7" width="16" height="14" rx="2.5" fill="#3b3b3b" transform="translate(597.5,267.6) rotate(-36.5) scale(1,0.95)"/>
<rect x="-8" y="-7" width="16" height="14" rx="2.5" fill="#3b3b3b" transform="translate(616.7,262.0) rotate(-7.2) scale(1,0.95)"/>
<rect x="-8" y="-7" width="16" height="14" rx="2.5" fill="#3b3b3b" transform="translate(636.7,264.1) rotate(23.3) scale(1,0.95)"/>
<rect x="-8" y="-7" width="16" height="14" rx="2.5" fill="#3b3b3b" transform="translate(653.8,273.3) rotate(50.6) scale(1,0.95)"/>
<rect x="-8" y="-7" width="16" height="14" rx="2.5" fill="#3b3b3b" transform="translate(664.4,288.0) rotate(74.1) scale(1,0.95)"/>
<ellipse cx="495.5" cy="303" rx="40.5" ry="33" fill="#3b3b3b" stroke="#e8e8e8" stroke-width="1.5"/>
<ellipse cx="621.4" cy="300.5" rx="40.4" ry="33.7" fill="#3b3b3b" stroke="#e8e8e8" stroke-width="1.5"/>
<path d="M485.5,275.5 L493,275.5 L493,291 L500,291 L500,284 Q500,275.5 507,275.5 Q513.5,276 513.5,284 L513.5,291 Q513,297.5 505,297.5 L485.5,297.5 Z" fill="#f2f2f2"/>
<circle cx="506" cy="282.5" r="3.5" fill="#3b3b3b"/>
<text x="476" y="309.5" textLength="38" lengthAdjust="spacingAndGlyphs" font-size="9.5" font-weight="bold" fill="#f0f0f0" font-family='"Liberation Sans", sans-serif' >DALY</text>
<path d="M468,312 L522,312 L519,314 L515,326 L475,326 L471,314 Z" fill="none" stroke="#eee" stroke-width="1.2"/>
<text x="480" y="323.5" textLength="31" lengthAdjust="spacingAndGlyphs" font-size="9" font-weight="bold" fill="#f0f0f0" font-family='"Liberation Sans", sans-serif' >BMS</text>
<text x="611" y="280" textLength="18" lengthAdjust="spacingAndGlyphs" font-size="6" font-weight="normal" fill="#e8e8e8" font-family='"Liberation Sans", sans-serif' >Li-ion</text>
<text x="600" y="289" textLength="40" lengthAdjust="spacingAndGlyphs" font-size="7" font-weight="normal" fill="#e8e8e8" font-family='"Liberation Sans", sans-serif' >16S 60V 50A</text>
<text x="585" y="297" textLength="71" lengthAdjust="spacingAndGlyphs" font-size="4.5" font-weight="normal" fill="#e8e8e8" font-family='"Liberation Sans", sans-serif' >ccccccccccccccccccccc</text>
<text x="585" y="305" textLength="71" lengthAdjust="spacingAndGlyphs" font-size="4.5" font-weight="normal" fill="#e8e8e8" font-family='"Liberation Sans", sans-serif' >ccccccccccccccccccccc</text>
<text x="594" y="313" textLength="55" lengthAdjust="spacingAndGlyphs" font-size="5.5" font-weight="normal" fill="#e8e8e8" font-family='"Liberation Sans", sans-serif' >DALY Electronics</text>
<text x="609" y="321" textLength="22" lengthAdjust="spacingAndGlyphs" font-size="5" font-weight="normal" fill="#e8e8e8" font-family='"Liberation Sans", sans-serif' >BH-F..</text>
<line x1="583" y1="292.5" x2="659" y2="292.5" stroke="#ddd" stroke-width="0.8"/>
<line x1="583" y1="307.5" x2="659" y2="307.5" stroke="#ddd" stroke-width="0.8"/>
<text x="677" y="260" textLength="11" lengthAdjust="spacingAndGlyphs" font-size="14" font-weight="bold" fill="#f4f4f4" font-family='"Liberation Sans", sans-serif' >P</text>
<rect x="689" y="253" width="6" height="2.2" fill="#f4f4f4"/>
<text x="682" y="361" textLength="11" lengthAdjust="spacingAndGlyphs" font-size="14" font-weight="bold" fill="#f4f4f4" font-family='"Liberation Sans", sans-serif' >B</text>
<rect x="694" y="354" width="6" height="2.2" fill="#f4f4f4"/>
<text x="417" y="262" textLength="8" lengthAdjust="spacingAndGlyphs" font-size="7" font-weight="normal" fill="#f0c8c0" font-family='"Liberation Sans", sans-serif' >ADAD</text>
<text x="534" y="252" textLength="28" lengthAdjust="spacingAndGlyphs" font-size="6.5" font-weight="normal" fill="#f0c0b8" font-family='"Liberation Sans", sans-serif' >XXXXX</text>
<rect x="428" y="296" width="4" height="1.5" fill="#f4d0c8"/>
<text x="440" y="369" textLength="134" lengthAdjust="spacingAndGlyphs" font-size="6.5" font-weight="normal" fill="#f6e6e0" font-family='"Liberation Sans", sans-serif' >uEtCfcne:mcnsuEtr/cFtTEK/VEARU</text>
<rect x="440" y="372" width="134" height="9" fill="#8a8a8a" opacity="0.7"/>
<circle cx="449" cy="381.5" r="5.3" fill="#f4f4f4" stroke="#222" stroke-width="0.8"/>
<rect x="446" y="379.7" width="6" height="3.6" fill="#222"/>
<circle cx="478.5" cy="382" r="5.3" fill="#f4f4f4" stroke="#222" stroke-width="0.8"/>
<rect x="475.5" y="380.2" width="6" height="3.6" fill="#222"/>
<circle cx="518" cy="380" r="5.3" fill="#f4f4f4" stroke="#222" stroke-width="0.8"/>
<rect x="515" y="378.2" width="6" height="3.6" fill="#222"/>
<rect x="805.3" y="366" width="278.7" height="128" rx="5" fill="#dcdcdc"/>
<rect x="807.6" y="508.5" width="278.2" height="130.5" rx="5" fill="#dcdcdc"/>
<text x="821.5" y="394" textLength="22" lengthAdjust="spacingAndGlyphs" font-size="15" font-weight="normal" fill="#1e1e1e" stroke="#1e1e1e" stroke-width="0.5" font-family='"Liberation Sans", sans-serif' >01:</text>
<text x="872.5" y="394" textLength="22" lengthAdjust="spacingAndGlyphs" font-size="15" font-weight="normal" fill="#1e1e1e" stroke="#1e1e1e" stroke-width="0.5" font-family='"Liberation Sans", sans-serif' >02:</text>
<text x="989.5" y="394" textLength="24" lengthAdjust="spacingAndGlyphs" font-size="15" font-weight="normal" fill="#1e1e1e" stroke="#1e1e1e" stroke-width="0.5" font-family='"Liberation Sans", sans-serif' >03:</text>
<text x="826" y="535" textLength="22.5" lengthAdjust="spacingAndGlyphs" font-size="15" font-weight="normal" fill="#1e1e1e" stroke="#1e1e1e" stroke-width="0.5" font-family='"Liberation Sans", sans-serif' >04:</text>
<text x="826" y="590.4" textLength="22.5" lengthAdjust="spacingAndGlyphs" font-size="15" font-weight="normal" fill="#1e1e1e" stroke="#1e1e1e" stroke-width="0.5" font-family='"Liberation Sans", sans-serif' >05:</text>
<line x1="858.7" y1="387" x2="858.7" y2="486" stroke="#1c1c1c" stroke-width="2.4"/>
<ellipse cx="858.7" cy="486" rx="1.8" ry="3" fill="#1c1c1c"/>
<circle cx="858.7" cy="384.5" r="2.2" fill="#fafafa"/>
<rect x="907" y="385" width="51.7" height="8" rx="4" fill="#d12f28"/>
<rect x="907" y="429" width="51.7" height="8" rx="4" fill="#d12f28"/>
<rect x="915.3" y="379.3" width="35.4" height="64.7" rx="4" fill="#3a3a3a" stroke="#d12f28" stroke-width="2.6"/>
<rect x="925" y="387" width="16" height="27" fill="#f2e6e0" stroke="#c0504a" stroke-width="1"/>
<rect x="930" y="393.0" width="6" height="2.6" fill="#3a7ad8"/>
<rect x="930" y="397.6" width="6" height="2.6" fill="#3a7ad8"/>
<rect x="930" y="402.2" width="6" height="2.6" fill="#3a7ad8"/>
<rect x="930" y="406.8" width="6" height="2.6" fill="#3a7ad8"/>
<rect x="929.5" y="421" width="6" height="6" fill="#5a2a2a"/>
<rect x="930.5" y="434" width="4" height="4" fill="#7a2a2a"/>
<rect x="926" y="445" width="14" height="17.7" fill="#1e1e1e"/>
<line x1="933" y1="462" x2="933" y2="485" stroke="#1e1e1e" stroke-width="5"/>
<line x1="1047.5" y1="432" x2="1047.5" y2="494" stroke="#2a2a2a" stroke-width="3"/>
<rect x="1042.3" y="417" width="12.2" height="17.7" fill="#2a2a2a"/>
<ellipse cx="1048" cy="397.6" rx="20" ry="19" fill="#d9463a" stroke="#2e2e2e" stroke-width="1.6"/>
<rect x="1034" y="404" width="28" height="4" fill="#4a3a3a"/>
<rect x="1036" y="397" width="24" height="3" fill="#b84040"/>
<rect x="1045" y="385" width="5" height="5" fill="#f0a040"/>
<line x1="828" y1="560" x2="881" y2="560" stroke="#4a4a4a" stroke-width="4.5"/>
<line x1="828" y1="560" x2="870" y2="560" stroke="#8a8a8a" stroke-width="1.2"/>
<polygon points="870,557 881,553 881,567 870,563" fill="#5a5a5a"/>
<rect x="880.5" y="550.75" width="25.5" height="19.25" rx="2" fill="#c43a24"/>
<rect x="883" y="555" width="20" height="3" fill="#e87840"/>
<rect x="906" y="555" width="10.7" height="11.5" fill="#f8f8f8"/>
<rect x="852.5" y="599.75" width="47" height="24" fill="#e6e2da"/>
<rect x="858" y="602" width="24" height="3" fill="#2a2a2a"/>
<rect x="893" y="600" width="7" height="20" fill="#e06040"/>
<rect x="883" y="600" width="8" height="23" fill="#cfcac0"/>
<rect x="866" y="609" width="1.5" height="4" fill="#555"/>
<rect x="866" y="617" width="1.5" height="3" fill="#777"/>
<rect x="872" y="609" width="1.5" height="4" fill="#555"/>
<rect x="872" y="617" width="1.5" height="3" fill="#777"/>
<rect x="878" y="609" width="1.5" height="4" fill="#555"/>
<rect x="878" y="617" width="1.5" height="3" fill="#777"/>
<rect x="948.7" y="530" width="126.2" height="71.6" rx="7" fill="#dedede" stroke="#111" stroke-width="3.5"/>
<path d="M947,588.5 L1076.6,588.5 L1076.6,596.4 Q1076.6,603.4 1069.6,603.4 L954,603.4 Q947,603.4 947,596.4 Z" fill="#111"/>
<rect x="949" y="585.5" width="125.6" height="3" fill="#888"/>
<ellipse cx="1010.7" cy="597" rx="2.8" ry="2" fill="#ddd"/>
<rect x="995.9" y="604" width="31.8" height="9" fill="#111"/>
<rect x="978.2" y="611.9" width="67.2" height="5.7" rx="2.8" fill="#111"/>
<text x="957" y="571.5" textLength="114.5" lengthAdjust="spacingAndGlyphs" font-size="27" font-weight="normal" fill="#111" stroke="#111" stroke-width="0.9" font-family='"Liberation Mono", monospace' transform="translate(0,571.5) scale(1,1.22) translate(0,-571.5)">Monitor</text>
<text x="259" y="92.5" textLength="677" lengthAdjust="spacingAndGlyphs" font-size="34.5" font-weight="normal" fill="#1e1e1e" stroke="#1e1e1e" stroke-width="0.9" font-family='"Liberation Sans", sans-serif' >Daly BMS wire diagram for Schematic diagram</text>
<text x="476" y="122" textLength="242" lengthAdjust="spacingAndGlyphs" font-size="17" font-weight="normal" fill="#222" stroke="#222" stroke-width="0.5" font-family='"Liberation Sans", sans-serif' >(16S 60A BMS As an example)</text>
<text x="378" y="1080" font-size="100" textLength="455" lengthAdjust="spacingAndGlyphs" fill="none" stroke="#e0e0e0" stroke-width="1" font-family='"Liberation Sans", sans-serif'>s-a.in.ua</text>
<text x="671" y="680.5" textLength="475" lengthAdjust="spacingAndGlyphs" font-size="19" font-weight="normal" fill="#1b1b1b" stroke="#1b1b1b" stroke-width="0.55" font-family='"Liberation Sans", sans-serif' >Tools needed: soldering machine(suggest using 662</text>
<text x="670" y="713.3" textLength="443" lengthAdjust="spacingAndGlyphs" font-size="20" font-weight="normal" fill="#1b1b1b" stroke="#1b1b1b" stroke-width="0.55" font-family='"Liberation Sans", sans-serif' >°F/350°C), scissors, double-sided tape,tin wire,</text>
<text x="671" y="740" textLength="110" lengthAdjust="spacingAndGlyphs" font-size="19" font-weight="normal" fill="#1b1b1b" stroke="#1b1b1b" stroke-width="0.55" font-family='"Liberation Sans", sans-serif' >multimeter.</text>
<text x="673" y="779.2" textLength="136" lengthAdjust="spacingAndGlyphs" font-size="19" font-weight="normal" fill="#1b1b1b" stroke="#1b1b1b" stroke-width="0.55" font-family='"Liberation Sans", sans-serif' >Note: 1, Please</text>
<text x="815" y="779.2" textLength="158" lengthAdjust="spacingAndGlyphs" font-size="19" font-weight="bold" fill="#1b1b1b" stroke="#1b1b1b" stroke-width="0.55" font-family='"Liberation Sans", sans-serif' >must disconnect</text>
<text x="980" y="779.2" textLength="182" lengthAdjust="spacingAndGlyphs" font-size="19" font-weight="normal" fill="#dd6346" stroke="#dd6346" stroke-width="0.55" font-family='"Liberation Sans", sans-serif' >balance wires white</text>
<text x="672" y="808.5" textLength="34" lengthAdjust="spacingAndGlyphs" font-size="19" font-weight="normal" fill="#dd6346" stroke="#dd6346" stroke-width="0.55" font-family='"Liberation Sans", sans-serif' >end</text>
<text x="713" y="808.5" textLength="470" lengthAdjust="spacingAndGlyphs" font-size="19" font-weight="normal" fill="#1b1b1b" stroke="#1b1b1b" stroke-width="0.55" font-family='"Liberation Sans", sans-serif' >and BMS connection port before welding black and</text>
<text x="673" y="838" textLength="498" lengthAdjust="spacingAndGlyphs" font-size="19" font-weight="normal" fill="#1b1b1b" stroke="#1b1b1b" stroke-width="0.55" font-family='"Liberation Sans", sans-serif' >red balance wires on battery pack. 2, Please keep BMS</text>
<text x="673" y="868" textLength="517" lengthAdjust="spacingAndGlyphs" font-size="19" font-weight="normal" fill="#1b1b1b" stroke="#1b1b1b" stroke-width="0.55" font-family='"Liberation Sans", sans-serif' >red cooling surface side uncovered and use DALY match-</text>
<text x="673" y="898" textLength="501" lengthAdjust="spacingAndGlyphs" font-size="19" font-weight="normal" fill="#1b1b1b" stroke="#1b1b1b" stroke-width="0.55" font-family='"Liberation Sans", sans-serif' >ing balance wires(regular length 450 mm / 17.72 inch).</text>
<text x="24" y="959.6" textLength="1153" lengthAdjust="spacingAndGlyphs" font-size="19.5" font-weight="normal" fill="#1b1b1b" stroke="#1b1b1b" stroke-width="0.55" font-family='"Liberation Sans", sans-serif' >After confiming that the balance wires are welded correctly and installed the accessories (such as: temperature control/pow-</text>
<text x="24" y="989.6" textLength="1150" lengthAdjust="spacingAndGlyphs" font-size="19.5" font-weight="normal" fill="#1b1b1b" stroke="#1b1b1b" stroke-width="0.55" font-family='"Liberation Sans", sans-serif' >er board/Bluetooth/GPS display/lcustomized communication interface ) on BMS,connect balance wires and BMS connection</text>
<text x="24" y="1019.6" textLength="47" lengthAdjust="spacingAndGlyphs" font-size="19.5" font-weight="normal" fill="#1b1b1b" stroke="#1b1b1b" stroke-width="0.55" font-family='"Liberation Sans", sans-serif' >port.</text>
<text x="25" y="1052" textLength="1011" lengthAdjust="spacingAndGlyphs" font-size="19.5" font-weight="normal" fill="#1b1b1b" stroke="#1b1b1b" stroke-width="0.55" font-family='"Liberation Sans", sans-serif' >Two methods①: press activation button on the battery board ②: by charging to activate BMS for the first use.</text>
<text x="25" y="1082" textLength="1148" lengthAdjust="spacingAndGlyphs" font-size="19.5" font-weight="normal" fill="#1b1b1b" stroke="#1b1b1b" stroke-width="0.55" font-family='"Liberation Sans", sans-serif' >The serial number of BMS and the protection parameters(Li-ion,LiFePO4) have default values at the factory, but the capacity</text>
<text x="25" y="1112" textLength="1128" lengthAdjust="spacingAndGlyphs" font-size="19.5" font-weight="normal" fill="#1b1b1b" stroke="#1b1b1b" stroke-width="0.55" font-family='"Liberation Sans", sans-serif' >of the battery pack needs to be set according to the actual capacity AH of the battery pack.If the capacity AH is not set cor-</text>
<text x="25" y="1142.5" textLength="1011" lengthAdjust="spacingAndGlyphs" font-size="19.5" font-weight="normal" fill="#1b1b1b" stroke="#1b1b1b" stroke-width="0.55" font-family='"Liberation Sans", sans-serif' >rectly, The percentage of remaining power will be inaccurate.Other parameters can also be set to your needs.</text>
<text x="25" y="1172.7" textLength="643" lengthAdjust="spacingAndGlyphs" font-size="19.5" font-weight="normal" fill="#1b1b1b" stroke="#1b1b1b" stroke-width="0.55" font-family='"Liberation Sans", sans-serif' >Initial password of smart board APP to change parameters is: 123456.</text>
</svg>
</body></html>
